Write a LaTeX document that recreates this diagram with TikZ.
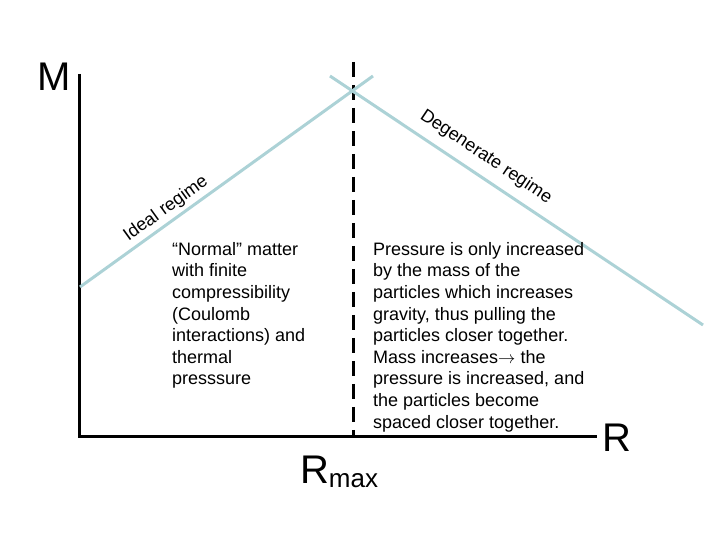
\documentclass[tikz,border=0pt]{standalone}
\usepackage{fontspec}
\setmainfont{Liberation Sans}
\definecolor{regimeblue}{RGB}{172,210,214}
\tikzset{
  axis/.style={line width=3pt},
  limit/.style={line width=3pt,dash pattern=on 15pt off 8pt},
  regime/.style={line width=3pt,regimeblue},
  note/.style={align=left,anchor=north west,inner sep=0pt,font=\fontsize{18}{21.6}\selectfont},
  tag/.style={inner sep=0pt,font=\fontsize{18}{20}\selectfont}
}
\begin{document}
\begin{tikzpicture}[x=1pt,y=1pt]
  \useasboundingbox (0,0) rectangle (720,540);
  % axes
  \coordinate (origin) at (79,103);
  \coordinate (mtop) at (79,466);
  \coordinate (rend) at (597,103);
  \draw[axis] (mtop) -- (origin) -- (rend);
  \node[font=\fontsize{40}{40}\selectfont] (mlabel) at (54,463) {M};
  \node[font=\fontsize{40}{40}\selectfont] (rlabel) at (617,102) {R};
  % maximum radius
  \coordinate (rmaxtop) at (353,478);
  \coordinate (rmaxbot) at (353,103);
  \draw[limit] (rmaxtop) -- (rmaxbot);
  \node (rmax) at (339,68) {\fontsize{40}{40}\selectfont R\raisebox{-4pt}{\fontsize{26}{26}\selectfont max}};
  % the two regimes
  \coordinate (ideallow) at (80,253);
  \coordinate (idealhigh) at (373,464);
  \coordinate (degenhigh) at (330,464);
  \coordinate (degenlow) at (703,215);
  \draw[regime] (ideallow) -- (idealhigh);
  \draw[regime] (degenhigh) -- (degenlow);
  \node[tag,rotate=35.8] (ideal) at (166,331) {Ideal regime};
  \node[tag,rotate=-33.8] (degen) at (486,383) {Degenerate regime};
  % explanations
  \node[note] (normal) at (172,298) {``Normal'' matter\\with finite\\compressibility\\(Coulomb\\interactions) and\\thermal\\presssure};
  \node[note] (pressure) at (373,298) {Pressure is only increased\\by the mass of the\\particles which increases\\gravity, thus pulling the\\particles closer together.\\Mass increases$\rightarrow$ the\\pressure is increased, and\\the particles become\\spaced closer together.};
\end{tikzpicture}
\end{document}
